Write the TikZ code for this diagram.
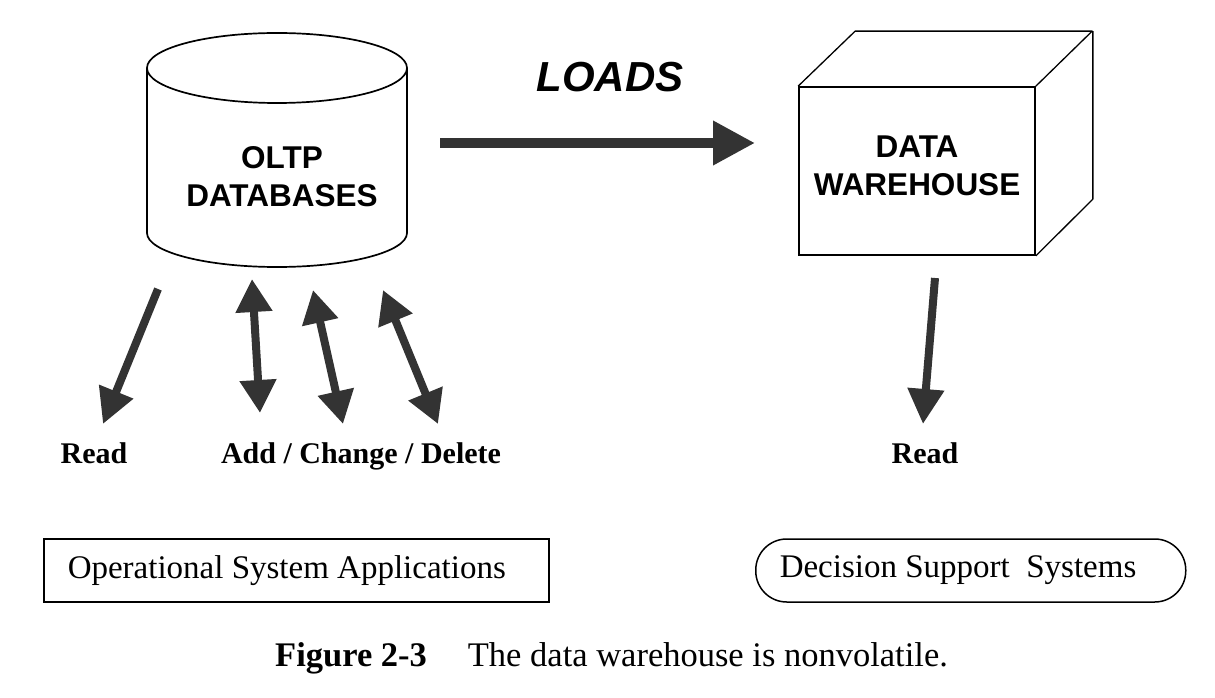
\documentclass[tikz,border=0pt]{standalone}
\usepackage{fontspec}
\setmainfont{Liberation Serif}
\setsansfont{Liberation Sans}
\usepackage{tikz}
\usetikzlibrary{arrows.meta}
\definecolor{arrgray}{HTML}{333333}

\begin{document}
\begin{tikzpicture}[x=1pt,y=1pt,
  onearrow/.style={arrgray, line width=8pt, -{Triangle[length=35pt,width=35pt]}},
  twoarrow/.style={arrgray, line width=8pt, {Triangle[length=33pt,width=35pt]}-{Triangle[length=33pt,width=35pt]}},
  storelabel/.style={font=\sffamily\bfseries\fontsize{31.5}{38}\selectfont, align=center},
  actlabel/.style={anchor=base, font=\bfseries\fontsize{30}{36}\selectfont},
  appbox/.style={draw, line width=1.5pt, anchor=west, inner xsep=24pt, inner ysep=0pt, minimum height=63pt, font=\fontsize{33}{40}\selectfont}]
\useasboundingbox (0,0) rectangle (1215,697);
% oltp store
\draw[line width=1.7pt] (147,629) -- (147,464) arc[start angle=180, end angle=360, x radius=130, y radius=34] -- (407,629);
\draw[line width=1.7pt] (277,629) ellipse [x radius=130, y radius=35];
\node[storelabel] (oltp) at (282,520) {OLTP\\DATABASES};
% warehouse
\node[draw, line width=1.7pt, minimum width=236pt, minimum height=168pt] (dw) at (917,526) {};
\node[storelabel] (dwtext) at (917,531) {DATA\\WAREHOUSE};
\draw[line width=1.3pt, line join=round] (dw.north west) -- ++(57,55) -- ++(237,0) -- (dw.north east);
\draw[line width=1.3pt, line join=round] ([shift={(57,55)}]dw.north east) -- ++(0,-168) -- (dw.south east);
% loads
\node[font=\sffamily\bfseries\itshape\fontsize{42}{48}\selectfont] (loads) at (610,620) {LOADS};
\coordinate (loadfrom) at (440,554);
\coordinate (loadto) at (755,554);
\draw[arrgray, line width=10pt, -{Triangle[length=42pt,width=42pt]}] (loadfrom) -- (loadto);
% operational side
\coordinate (opread1) at (158,408);
\coordinate (opread2) at (103,273);
\coordinate (acdA1) at (252,418);
\coordinate (acdA2) at (260,284);
\coordinate (acdB1) at (313,407);
\coordinate (acdB2) at (343,273);
\coordinate (acdC1) at (383,407);
\coordinate (acdC2) at (438,273);
\draw[onearrow] (opread1) -- (opread2);
\draw[twoarrow] (acdA1) -- (acdA2);
\draw[twoarrow] (acdB1) -- (acdB2);
\draw[twoarrow] (acdC1) -- (acdC2);
\node[actlabel] (opread) at (94,234) {Read};
\node[actlabel] (acd) at (361,234) {Add / Change / Delete};
% decision side
\coordinate (dsread1) at (935,419);
\coordinate (dsread2) at (923,273);
\draw[onearrow] (dsread1) -- (dsread2);
\node[actlabel] (dsread) at (925,234) {Read};
% applications
\node[appbox] (opapp) at (43,126.5) {\makebox[457pt][l]{Operational System Applications}};
\node[appbox, rounded corners=31pt] (dsapp) at (755,126.5) {\makebox[382pt][l]{Decision Support\ \ Systems}};
% caption
\node[anchor=west, inner sep=0pt, font=\fontsize{34.5}{40}\selectfont] (caption) at (275,39) {\textbf{Figure 2-3}\hspace{41pt}The data warehouse is nonvolatile.};
\end{tikzpicture}
\end{document}
